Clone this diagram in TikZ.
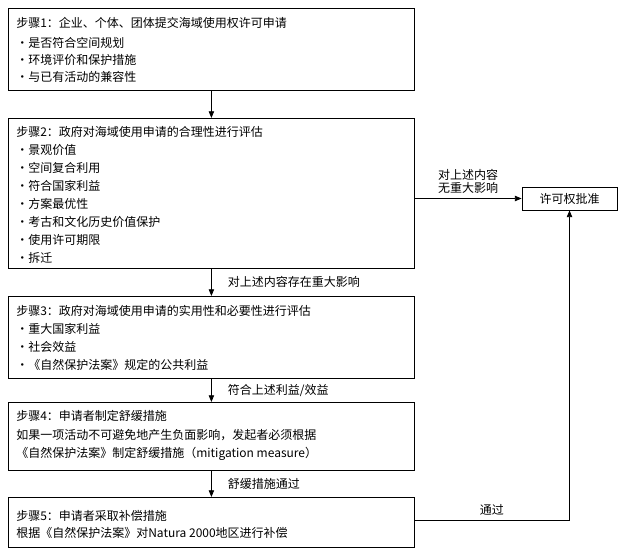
\documentclass[tikz,border=0pt]{standalone}
\usepackage{fontspec}
\setmainfont{Liberation Serif}
\newfontfamily\cjk{Noto Sans CJK SC}
\usetikzlibrary{arrows.meta}
\begin{document}
\begin{tikzpicture}[x=0.75pt,y=-0.75pt,
  box/.style={draw,line width=0.6pt,anchor=north west,inner sep=0pt},
  txt/.style={anchor=west,inner sep=0pt,font=\cjk\fontsize{9}{10}\selectfont},
  arr/.style={-{Triangle[length=5pt,width=4pt]},line width=0.6pt}]
\useasboundingbox (0,0) rectangle (641,552);
\node[box,minimum width=406*0.75pt,minimum height=82*0.75pt] (b1) at (8,8) {};
\node[box,minimum width=406*0.75pt,minimum height=150*0.75pt] (b2) at (8,118) {};
\node[box,minimum width=406*0.75pt,minimum height=82*0.75pt] (b3) at (8,296) {};
\node[box,minimum width=406*0.75pt,minimum height=68*0.75pt] (b4) at (8,402) {};
\node[box,minimum width=406*0.75pt,minimum height=50*0.75pt] (b5) at (8,497) {};
\node[draw,line width=0.6pt,minimum width=95*0.75pt,minimum height=23*0.75pt,inner sep=0pt,font=\cjk\fontsize{9}{10}\selectfont] (p) at (569.5,198.5) {许可权批准};
\node[txt] (t11) at (16,23) {步骤1：企业、个体、团体提交海域使用权许可申请};
\node[txt] (t12) at (16,43) {·是否符合空间规划};
\node[txt] (t13) at (16,60) {·环境评价和保护措施};
\node[txt] (t14) at (16,77) {·与已有活动的兼容性};
\node[txt] (t21) at (16,132) {步骤2：政府对海域使用申请的合理性进行评估};
\node[txt] (t22) at (16,150) {·景观价值};
\node[txt] (t23) at (16,168) {·空间复合利用};
\node[txt] (t24) at (16,186) {·符合国家利益};
\node[txt] (t25) at (16,204) {·方案最优性};
\node[txt] (t26) at (16,222) {·考古和文化历史价值保护};
\node[txt] (t27) at (16,240) {·使用许可期限};
\node[txt] (t28) at (16,258) {·拆迁};
\node[txt] (t31) at (16,311) {步骤3：政府对海域使用申请的实用性和必要性进行评估};
\node[txt] (t32) at (16,329) {·重大国家利益};
\node[txt] (t33) at (16,347) {·社会效益};
\node[txt] (t34) at (16,365) {·《自然保护法案》规定的公共利益};
\node[txt] (t41) at (16,416) {步骤4：申请者制定舒缓措施};
\node[txt] (t42) at (16,435) {如果一项活动不可避免地产生负面影响，发起者必须根据};
\node[txt] (t43) at (16,454) {《自然保护法案》制定舒缓措施（mitigation measure）};
\node[txt] (t51) at (16,516) {步骤5：申请者采取补偿措施};
\node[txt] (t52) at (16,533) {根据《自然保护法案》对Natura 2000地区进行补偿};
\draw[arr] (b1.south) -- (b2.north);
\draw[arr] (b2.south) -- node[txt,right=12pt] (l2) {对上述内容存在重大影响} (b3.north);
\draw[arr] (b3.south) -- node[txt,right=12pt] (l3) {符合上述利益/效益} (b4.north);
\draw[arr] (b4.south) -- node[txt,right=12pt] (l4) {舒缓措施通过} (b5.north);
\draw[arr] (b2.east |- p.west) -- node[above,align=center,font=\cjk\fontsize{9}{10}\selectfont] (l5) {对上述内容\\无重大影响} (p.west);
\coordinate (c5) at (414,520);
\draw[arr] (c5) -- node[above,font=\cjk\fontsize{9}{10}\selectfont] (l6) {通过} (c5 -| p.south) -- (p.south);
\end{tikzpicture}
\end{document}
